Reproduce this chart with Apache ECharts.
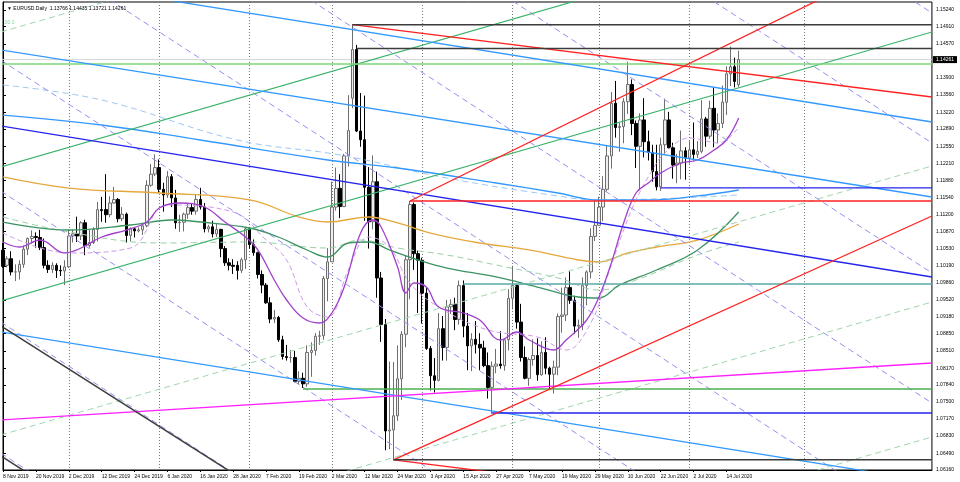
<!DOCTYPE html>
<html><head><meta charset="utf-8">
<script src="https://cdn.jsdelivr.net/npm/echarts@6/dist/echarts.min.js"></script>
<style>html,body{margin:0;padding:0;background:#fff}#c{width:960px;height:482px}</style>
</head><body><div id="c"></div><script>
// ---------- data ----------
const symbolTitle = '\u25BC EURUSD.Daily  1.13766 1.14435 1.13721 1.14261';
const lastPrice = 1.14261;
const dateTicks = ['8 Nov 2019','20 Nov 2019','2 Dec 2019','12 Dec 2019','24 Dec 2019','6 Jan 2020','16 Jan 2020','28 Jan 2020','7 Feb 2020','19 Feb 2020','2 Mar 2020','12 Mar 2020','24 Mar 2020','3 Apr 2020','15 Apr 2020','27 Apr 2020','7 May 2020','19 May 2020','29 May 2020','10 Jun 2020','22 Jun 2020','2 Jul 2020','14 Jul 2020'];
const priceTicks = [1.15240,1.14910,1.14570,1.13900,1.13560,1.13220,1.12890,1.12550,1.12210,1.11880,1.11540,1.11200,1.10870,1.10530,1.10190,1.09860,1.09520,1.09180,1.08850,1.08510,1.08170,1.07840,1.07500,1.07170,1.06830,1.06490,1.06160];
const monthStartBars = [16,38,60,80,102,124,145,167,195];

const open = [1.1050,1.1020,1.1033,1.1007,1.1007,1.1022,1.1052,1.1073,1.1077,1.1075,1.1055,1.1020,1.1012,1.1020,1.1010,1.1009,
1.1017,1.1078,1.1082,1.1078,1.1104,1.1059,1.1065,1.1091,1.1130,1.1130,1.1120,1.1143,1.1150,1.1112,1.1121,1.1079,1.1092,1.1088,1.1090,1.1098,1.1178,1.1200,
1.1213,1.1170,1.1159,1.1195,1.1153,1.1104,1.1105,1.1121,1.1134,1.1127,1.1150,1.1135,1.1092,1.1096,1.1082,1.1091,1.1053,1.1025,1.1020,1.1020,1.1010,1.1031,
1.1092,1.1061,1.1045,1.1002,1.0981,1.0946,1.0914,1.0917,1.0873,1.0840,1.0838,1.0838,1.0791,1.0797,1.0786,1.0848,1.0852,1.0880,1.0881,1.0994,
1.1027,1.1135,1.1172,1.1136,1.1236,1.1350,1.1446,1.1285,1.1268,1.1174,1.1106,1.1185,1.0995,1.0903,1.0693,1.0695,1.0723,1.0796,1.0884,1.1031,1.1140,1.1043,
1.1030,1.0965,1.0856,1.0802,1.0793,1.0895,1.0858,1.0938,1.0943,1.0913,1.0980,1.0900,1.0861,1.0874,1.0864,1.0857,1.0822,1.0779,1.0821,1.0825,1.0822,1.0873,
1.0955,1.0980,1.0908,1.0838,1.0797,1.0834,1.0842,1.0804,1.0848,1.0817,1.0805,1.0819,1.0919,1.0922,1.0976,1.0951,1.0900,1.0902,1.0980,1.1007,1.1077,
1.1099,1.1135,1.1170,1.1236,1.1340,1.1292,1.1294,1.1343,1.1377,1.1300,1.1255,1.1307,1.1264,1.1243,1.1205,1.1175,1.1258,1.1307,1.1252,1.1218,1.1222,1.1246,
1.1232,1.1248,1.1239,1.1245,1.1309,1.1275,1.1330,1.1287,1.1300,1.1342,1.1398,1.1412,1.13766];
const high = [1.1064,1.1038,1.1048,1.1022,1.1030,1.1059,1.1075,1.1089,1.1085,1.1090,1.1073,1.1030,1.1026,1.1024,1.1020,1.1030,
1.1090,1.1091,1.1116,1.1107,1.1110,1.1090,1.1095,1.1145,1.1155,1.1200,1.1156,1.1175,1.1153,1.1135,1.1124,1.1095,1.1095,1.1095,1.1100,1.1188,1.1220,1.1239,
1.1229,1.1183,1.1206,1.1200,1.1169,1.1120,1.1124,1.1141,1.1143,1.1160,1.1173,1.1143,1.1100,1.1108,1.1102,1.1092,1.1058,1.1034,1.1032,1.1028,1.1035,1.1096,
1.1095,1.1071,1.1047,1.1010,1.0985,1.0957,1.0932,1.0920,1.0881,1.0863,1.0853,1.0851,1.0811,1.0808,1.0862,1.0868,1.0886,1.0891,1.0999,1.1054,
1.1185,1.1213,1.1200,1.1240,1.1356,1.1496,1.1455,1.1360,1.1355,1.1214,1.1237,1.1205,1.1007,1.0914,1.0830,1.0829,1.0862,1.0890,1.1039,1.1147,1.1144,1.1049,
1.1035,1.0977,1.0861,1.0837,1.0926,1.0920,1.0952,1.0953,1.0956,1.0990,1.0990,1.0926,1.0886,1.0910,1.0886,1.0871,1.0848,1.0830,1.0855,1.0890,1.0874,1.0973,
1.1019,1.0982,1.0944,1.0860,1.0838,1.0874,1.0876,1.0870,1.0878,1.0820,1.0832,1.0925,1.0976,1.0996,1.1008,1.0960,1.0913,1.0996,1.1010,1.1093,1.1147,
1.1155,1.1196,1.1257,1.1362,1.1384,1.1301,1.1350,1.1422,1.1387,1.1306,1.1320,1.1350,1.1286,1.1258,1.1258,1.1272,1.1349,1.1323,1.1262,1.1240,1.1286,1.1253,
1.1265,1.1302,1.1265,1.1346,1.1313,1.1345,1.1371,1.1320,1.1375,1.1413,1.1452,1.1430,1.14435];
const low = [1.1015,1.1016,1.1000,1.0989,1.0992,1.1015,1.1040,1.1063,1.1055,1.1050,1.1014,1.1005,1.1005,1.0995,1.0999,1.0981,
1.1015,1.1065,1.1066,1.1070,1.1040,1.1055,1.1062,1.1067,1.1106,1.1104,1.1115,1.1142,1.1105,1.1107,1.1065,1.1067,1.1075,1.1085,1.1080,1.1095,1.1175,1.1196,
1.1163,1.1126,1.1153,1.1135,1.1092,1.1086,1.1087,1.1112,1.1120,1.1120,1.1130,1.1085,1.1085,1.1075,1.1076,1.1036,1.1019,1.1010,1.1003,1.0992,1.1005,1.1013,
1.1053,1.1039,1.0994,1.0965,1.0944,1.0906,1.0906,1.0869,1.0834,1.0832,1.0828,1.0789,1.0785,1.0778,1.0780,1.0800,1.0842,1.0863,1.0873,1.0949,
1.1027,1.1128,1.1113,1.1135,1.1215,1.1330,1.1283,1.1254,1.1108,1.1053,1.1091,1.0956,1.0869,1.0655,1.0657,1.0636,1.0713,1.0754,1.0858,1.0953,1.1011,1.0926,
1.0905,1.0853,1.0773,1.0769,1.0791,1.0832,1.0832,1.0924,1.0892,1.0903,1.0878,1.0813,1.0811,1.0846,1.0813,1.0819,1.0757,1.0727,1.0807,1.0816,1.0812,1.0852,
1.0933,1.0895,1.0830,1.0795,1.0782,1.0822,1.0792,1.0802,1.0805,1.0774,1.0767,1.0803,1.0887,1.0910,1.0944,1.0885,1.0877,1.0892,1.0941,1.0994,1.1068,
1.1098,1.1107,1.1166,1.1211,1.1272,1.1244,1.1261,1.1319,1.1277,1.1212,1.1168,1.1233,1.1227,1.1185,1.1168,1.1167,1.1240,1.1251,1.1191,1.1182,1.1190,1.1189,
1.1221,1.1227,1.1232,1.1241,1.1254,1.1270,1.1253,1.1261,1.1291,1.1317,1.1374,1.1371,1.13721];
const close = [1.1018,1.1033,1.1007,1.1007,1.1022,1.1052,1.1073,1.1077,1.1075,1.1055,1.1020,1.1012,1.1020,1.1010,1.1009,1.1017,
1.1078,1.1082,1.1078,1.1104,1.1059,1.1065,1.1091,1.1130,1.1128,1.1120,1.1143,1.1150,1.1112,1.1121,1.1079,1.1092,1.1088,1.1090,1.1098,1.1178,1.1200,1.1213,
1.1170,1.1159,1.1195,1.1153,1.1104,1.1105,1.1121,1.1134,1.1127,1.1150,1.1135,1.1092,1.1096,1.1082,1.1091,1.1053,1.1025,1.1020,1.1018,1.1010,1.1031,1.1092,
1.1061,1.1045,1.1002,1.0981,1.0946,1.0914,1.0917,1.0873,1.0840,1.0838,1.0838,1.0791,1.0797,1.0786,1.0848,1.0852,1.0880,1.0881,1.0994,1.1027,
1.1135,1.1172,1.1136,1.1236,1.1286,1.1446,1.1285,1.1268,1.1174,1.1106,1.1185,1.0995,1.0903,1.0693,1.0695,1.0723,1.0796,1.0884,1.1031,1.1140,1.1043,1.1030,
1.0965,1.0856,1.0802,1.0793,1.0895,1.0858,1.0938,1.0943,1.0913,1.0980,1.0900,1.0861,1.0874,1.0864,1.0857,1.0822,1.0779,1.0821,1.0825,1.0822,1.0873,1.0955,
1.0980,1.0908,1.0838,1.0797,1.0834,1.0842,1.0804,1.0848,1.0817,1.0805,1.0819,1.0919,1.0922,1.0976,1.0951,1.0900,1.0902,1.0980,1.1007,1.1077,1.1099,
1.1135,1.1170,1.1236,1.1340,1.1292,1.1294,1.1343,1.1377,1.1300,1.1255,1.1307,1.1264,1.1243,1.1205,1.1175,1.1258,1.1307,1.1252,1.1218,1.1222,1.1246,1.1232,
1.1248,1.1239,1.1245,1.1309,1.1275,1.1330,1.1287,1.1300,1.1342,1.1398,1.1412,1.1383,1.14261];

// drawn trend lines: [[barIndex, price],[barIndex, price]]
const blackLines = [
  [[85,1.1495],[226,1.1495]],
  [[86,1.1448],[226,1.1448]],
  [[95,1.0636],[226,1.0636]],
  [[-1,1.09029],[56,1.06093]],
  [[-1,1.06463],[6,1.06100]]
];
const redLines = [
  [[85,1.1495],[226,1.13523]],
  [[95,1.0636],[226,1.05034]],
  [[95,1.0636],[226,1.11174]],
  [[99,1.1147],[226,1.1654]],
  [[99,1.1147],[226,1.1147]]
];
const greenLines = [
  [[-0.5,1.09496],[226,1.14806]],
  [[-0.5,1.12141],[226,1.17451]]
];
const paleGreenDashed = [
  [[-0.5,1.14806],[226,1.20116]],
  [[-0.5,1.06851],[226,1.12161]],
  [[-0.5,1.04167],[226,1.09476]],
  [[-0.5,1.01502],[226,1.06811]]
];
const lightGreenLevel = [[[-0.5,1.14174],[226,1.14174]]];
const greenLevel = [[[73,1.07759],[226,1.07759]]];
const tealLevel = [[[112,1.09832],[226,1.09832]]];
const blueLines = [
  [[35,1.15500],[226,1.13029]],
  [[-0.5,1.14450],[226,1.11549]],
  [[-0.5,1.08884],[226,1.05929]]
];
const navyLines = [
  [[-0.5,1.12950],[226,1.09970]],
  [[160,1.11727],[226,1.11727]],
  [[119,1.07285],[226,1.07285]]
];
const magentaLines = [[[-0.5,1.07147],[226,1.08272]]];
const lavenderDashed = [
  [[-0.5,1.27099],[226,1.15181]],
  [[-0.5,1.24533],[226,1.12615]],
  [[-0.5,1.21967],[226,1.10049]],
  [[-0.5,1.19400],[226,1.07482]],
  [[-0.5,1.16834],[226,1.04916]],
  [[-0.5,1.14248],[226,1.02330]],
  [[-0.5,1.11663],[226,0.99745]],
  [[-0.5,1.09077],[226,0.97159]],
  [[-0.5,1.06491],[226,0.94573]]
];

// indicator curves: [barIndex, price]
const maOrange = [[0,1.11944],[16,1.11726],[38,1.11628],[60,1.11490],[72,1.11154],[79,1.11055],[89,1.11154],[96,1.11036],[104,1.10838],[116,1.10641],[128,1.10503],[140,1.10305],[145,1.10266],[152,1.10444],[159,1.10562],[169,1.10700],[179,1.11016]];
const maGreen = [[0,1.11055],[16,1.10897],[31,1.10996],[41,1.11095],[48,1.11055],[60,1.10937],[67,1.10759],[74,1.10503],[79,1.10364],[84,1.10641],[89,1.10661],[94,1.10503],[101,1.10305],[108,1.10147],[120,1.09970],[130,1.09772],[140,1.09575],[145,1.09555],[150,1.09812],[159,1.10108],[169,1.10503],[179,1.11253]];
const maPaleGreen = [[0,1.11154],[16,1.10858],[38,1.10641],[60,1.10661],[79,1.10542],[87,1.10700],[96,1.10542],[108,1.10404],[120,1.10206],[135,1.09950],[145,1.09713],[154,1.09910],[169,1.10404],[179,1.10661]];
const maPurple = [[0,1.10661],[4,1.10562],[9,1.10700],[15,1.10444],[19,1.10542],[24,1.10759],[30,1.10897],[35,1.11055],[38,1.11332],[43,1.11430],[49,1.11351],[54,1.11055],[59,1.10759],[62,1.10503],[66,1.09911],[69,1.09516],[73,1.09160],[77,1.09062],[80,1.09259],[83,1.09772],[87,1.10838],[90,1.11095],[92,1.10957],[96,1.10167],[98,1.09654],[100,1.09851],[103,1.09772],[106,1.09378],[112,1.09259],[116,1.09121],[121,1.08726],[125,1.08884],[128,1.08726],[134,1.08529],[137,1.08726],[142,1.09121],[145,1.09575],[148,1.10246],[151,1.11036],[154,1.11628],[157,1.11825],[160,1.12023],[165,1.12220],[169,1.12279],[173,1.12476],[176,1.12674],[179,1.13108]];
const maPurpleDashed = [[0,1.10838],[16,1.10444],[31,1.10542],[40,1.11391],[56,1.11253],[64,1.10700],[69,1.10305],[74,1.09378],[79,1.09180],[84,1.10108],[89,1.10759],[94,1.10562],[99,1.09851],[106,1.09378],[118,1.08924],[130,1.08785],[137,1.08529],[143,1.09062],[147,1.09970],[151,1.10897],[154,1.11490],[158,1.12082],[161,1.12417],[167,1.12713],[174,1.12615],[179,1.12930]];
const maBlue = [[0,1.13167],[24,1.12970],[48,1.12674],[79,1.12279],[96,1.12121],[120,1.11825],[135,1.11628],[145,1.11490],[157,1.11490],[169,1.11569],[179,1.11687]];
const maLightBlue = [[0,1.13760],[24,1.13464],[57,1.12674],[82,1.12378],[108,1.11924],[135,1.11569],[145,1.11490],[179,1.11588]];

// ---------- build ----------
const N = 227;
const months = ['Jan','Feb','Mar','Apr','May','Jun','Jul','Aug','Sep','Oct','Nov','Dec'];
const holidays = ['2020-01-01'];
const categories = [];
let d = new Date(Date.UTC(2019,10,8));
while (categories.length < N) {
  const wd = d.getUTCDay(), iso = d.toISOString().slice(0,10);
  if (wd !== 0 && wd !== 6 && !holidays.includes(iso)) categories.push(d.getUTCDate()+' '+months[d.getUTCMonth()]+' '+d.getUTCFullYear());
  d = new Date(d.getTime()+86400000);
}
const candles = open.map((o,i)=>[o, close[i], low[i], high[i]]);
const FONT = 'Liberation Sans';

const series = [{
  type:'candlestick', xAxisIndex:0, yAxisIndex:0, data:candles, barWidth:3, z:2,
  itemStyle:{color:'#eeeeee', color0:'#000000', borderColor:'#6e6e6e', borderColor0:'#000000', borderWidth:1}
}];
function addLines(list, color, width, type, z){
  list.forEach(seg=>series.push({type:'line', xAxisIndex:1, yAxisIndex:0, data:seg, symbol:'none', silent:true, clip:true, z:z||4,
    lineStyle:{color, width, type}}));
}
function addCurve(pts, color, width, type){
  series.push({type:'line', xAxisIndex:1, yAxisIndex:0, data:pts, symbol:'none', smooth:0.4, silent:true, clip:true, z:3,
    lineStyle:{color, width, type}});
}
addLines([[[-0.5,lastPrice],[226,lastPrice]]],'#d4d4d4',1,'solid',1);
addCurve(maLightBlue,'#9cc8f5',1,[6,4]);
addCurve(maBlue,'#3399ff',1.3,'solid');
addCurve(maOrange,'#e6a73c',1.3,'solid');
addCurve(maPaleGreen,'#9ad0a8',1,[6,4]);
addCurve(maGreen,'#3b9461',1.3,'solid');
addCurve(maPurpleDashed,'#cf9ae8',1,[5,3]);
addCurve(maPurple,'#a040cc',1.3,'solid');
addLines(lavenderDashed,'#9090f0',1,[6,4]);
addLines(paleGreenDashed,'#9ed6ac',1,[6,4]);
addLines(greenLines,'#3cb36c',1.2,'solid');
addLines(lightGreenLevel,'#7ad67a',1.3,'solid');
addLines(greenLevel,'#4caf50',1.5,'solid');
addLines(tealLevel,'#5aa8a8',1.5,'solid');
addLines(blueLines,'#3399ff',1.3,'solid');
addLines(navyLines,'#2424ee',1.3,'solid');
addLines(magentaLines,'#ff22ff',1.3,'solid');
addLines(redLines,'#ff2222',1.3,'solid');
addLines(blackLines,'#3c3c3c',1.5,'solid',5);

const chart = echarts.init(document.getElementById('c'), null, {renderer:'canvas'});
const yBase = {type:'value', position:'right', min:1.0616, max:1.15398, scale:true, splitLine:{show:false}};
chart.setOption({
  animation:false,
  backgroundColor:'#ffffff',
  textStyle:{fontFamily:FONT},
  title:{text:symbolTitle, left:2, top:1, textStyle:{fontSize:5, fontWeight:'normal', color:'#000', fontFamily:FONT}},
  graphic:[{type:'text', left:2, top:20, style:{text:'100.0', fill:'#8fd19e', fontSize:5, fontFamily:FONT}}],
  grid:{left:2, right:24, top:2, bottom:12, show:true, borderColor:'#000', borderWidth:1, backgroundColor:'#fff', containLabel:false},
  xAxis:[{
    type:'category', data:categories, boundaryGap:false,
    axisLine:{show:true, lineStyle:{color:'#000'}},
    axisTick:{show:true, length:2, interval:(i)=>i%8===0 && i<=176, lineStyle:{color:'#000'}},
    axisLabel:{interval:(i)=>i%8===0 && i<=176, align:'left', margin:4, fontSize:5, color:'#000', fontFamily:FONT,
      formatter:(v)=>dateTicks.includes(v)?v:''},
    splitLine:{show:true, interval:(i)=>monthStartBars.includes(i), lineStyle:{color:'#777', width:1, type:[1,2]}}
  },{
    type:'value', min:0, max:N-1, show:false, splitLine:{show:false}
  }],
  yAxis:[Object.assign({}, yBase, {
    axisLine:{show:true, lineStyle:{color:'#000'}},
    axisTick:{show:true, length:3, customValues:priceTicks, lineStyle:{color:'#000'}},
    axisLabel:{customValues:priceTicks, margin:4, fontSize:5, color:'#000', fontFamily:FONT, formatter:(v)=>v.toFixed(5)}
  }), Object.assign({}, yBase, {
    axisLine:{show:false}, axisTick:{show:false},
    axisLabel:{customValues:[lastPrice], margin:1, fontSize:5, color:'#fff', backgroundColor:'#000', padding:[1,3,1,3], fontFamily:FONT, formatter:(v)=>v.toFixed(5)}
  })],
  series
});
</script></body></html>
